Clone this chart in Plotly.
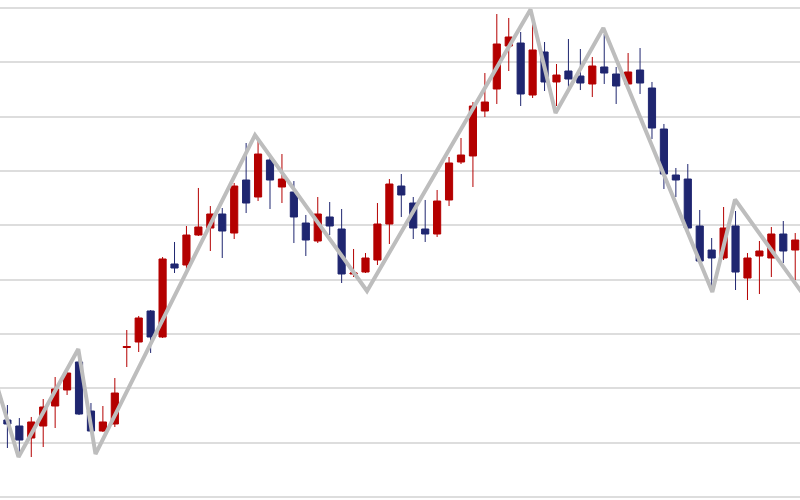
import plotly.graph_objects as go

# Candle index (one per period)
periods = list(range(67))

opens = [114.17, 113.07, 110.86, 113.07, 116.75, 119.70, 124.85, 115.83, 112.15, 113.44,
         127.52, 128.53, 134.24, 129.45, 142.89, 142.70, 148.22, 149.51, 152.09, 148.59,
         158.35, 155.22, 162.03, 157.06, 156.14, 150.43, 147.12, 151.54, 149.33, 141.05,
         141.41, 143.62, 150.25, 157.24, 154.11, 149.33, 148.41, 154.67, 161.66, 162.77,
         171.05, 175.10, 183.01, 183.56, 173.99, 181.91, 176.39, 178.41, 177.49, 176.02,
         179.15, 177.86, 176.02, 178.59, 175.28, 167.73, 159.27, 158.53, 149.88, 145.46,
         143.99, 149.88, 140.31, 144.36, 143.99, 148.41, 145.46]
closes = [113.44, 110.49, 113.81, 116.57, 119.88, 122.82, 115.28, 112.15, 113.81, 119.14,
          127.70, 132.95, 129.45, 143.81, 142.15, 148.22, 149.70, 152.09, 148.96, 157.24,
          154.11, 163.13, 158.35, 158.53, 151.54, 147.30, 152.09, 149.88, 141.05, 141.23,
          143.99, 150.25, 157.61, 155.59, 149.51, 148.41, 154.48, 161.48, 162.95, 171.97,
          172.70, 183.38, 184.67, 174.18, 182.28, 176.39, 177.67, 176.94, 176.20, 179.33,
          178.04, 175.65, 178.23, 176.20, 167.92, 159.45, 158.35, 149.51, 143.44, 143.99,
          149.51, 141.41, 143.99, 145.28, 148.41, 145.28, 147.30]
highs = [116.93, 114.54, 114.73, 118.04, 122.09, 123.19, 125.22, 117.30, 116.75, 121.90,
         130.74, 133.32, 134.42, 144.17, 146.94, 149.88, 156.88, 153.56, 153.19, 157.80,
         165.16, 165.71, 162.77, 163.13, 158.16, 151.91, 155.22, 154.30, 153.01, 145.65,
         144.91, 154.11, 158.53, 159.45, 155.22, 154.67, 156.51, 162.58, 166.08, 172.70,
         178.04, 188.90, 188.17, 185.59, 187.43, 183.75, 179.70, 184.30, 182.46, 180.99,
         185.22, 179.15, 181.72, 182.64, 176.39, 168.66, 160.56, 161.29, 152.83, 147.67,
         153.38, 152.64, 144.91, 147.12, 149.70, 150.80, 148.59]
lows = [109.02, 107.55, 107.36, 109.20, 112.70, 118.77, 115.09, 111.96, 111.96, 112.88,
        123.93, 126.69, 126.51, 129.27, 141.23, 141.78, 148.04, 145.28, 143.99, 147.49,
        152.27, 154.48, 153.01, 154.11, 146.75, 144.36, 146.75, 148.22, 139.39, 140.49,
        141.23, 142.70, 146.57, 151.54, 147.49, 146.94, 147.86, 153.56, 161.29, 157.06,
        169.94, 172.34, 178.41, 171.97, 173.44, 174.73, 171.97, 175.10, 174.91, 173.62,
        176.02, 172.34, 175.83, 174.18, 165.89, 156.69, 155.22, 149.14, 143.25, 138.65,
        143.62, 138.10, 136.26, 137.36, 140.49, 143.07, 139.94]

# Zig-zag indicator turning points (period position, price)
zz_x = [-0.997, 0.930, 5.940, 7.381, 20.744, 30.127, 43.825, 45.920, 49.925, 59.056, 60.958, 67.0]
zz_y = [121.35, 107.36, 127.24, 107.91, 166.63, 137.92, 189.73, 170.68, 186.32, 137.73, 154.76, 136.28]

RED = "#b40000"
NAVY = "#1f2670"

fig = go.Figure()
fig.add_trace(go.Candlestick(
    x=periods, open=opens, high=highs, low=lows, close=closes,
    increasing=dict(line=dict(color=RED, width=1), fillcolor=RED),
    decreasing=dict(line=dict(color=NAVY, width=1), fillcolor=NAVY),
    showlegend=False, hoverinfo="skip",
))
fig.add_trace(go.Scatter(
    x=zz_x, y=zz_y, mode="lines",
    line=dict(color="#bdbdbd", width=4),
    showlegend=False, hoverinfo="skip",
))

fig.update_layout(
    width=800, height=500,
    margin=dict(l=0, r=0, t=0, b=0),
    paper_bgcolor="white", plot_bgcolor="white",
    boxgap=0.4, boxgroupgap=0,
    xaxis=dict(range=[-0.62, 66.40], showgrid=False, zeroline=False,
               showticklabels=False, ticks="", rangeslider=dict(visible=False),
               showline=False),
    yaxis=dict(range=[99.45, 191.48], tick0=100, dtick=10, showgrid=True,
               gridcolor="#dddddd", gridwidth=2, zeroline=False,
               showticklabels=False, ticks="", showline=False),
)

fig.write_html(
    "out.html",
    config={"displayModeBar": False},
    post_script="document.body.style.margin='0';document.body.style.overflow='hidden';",
)
